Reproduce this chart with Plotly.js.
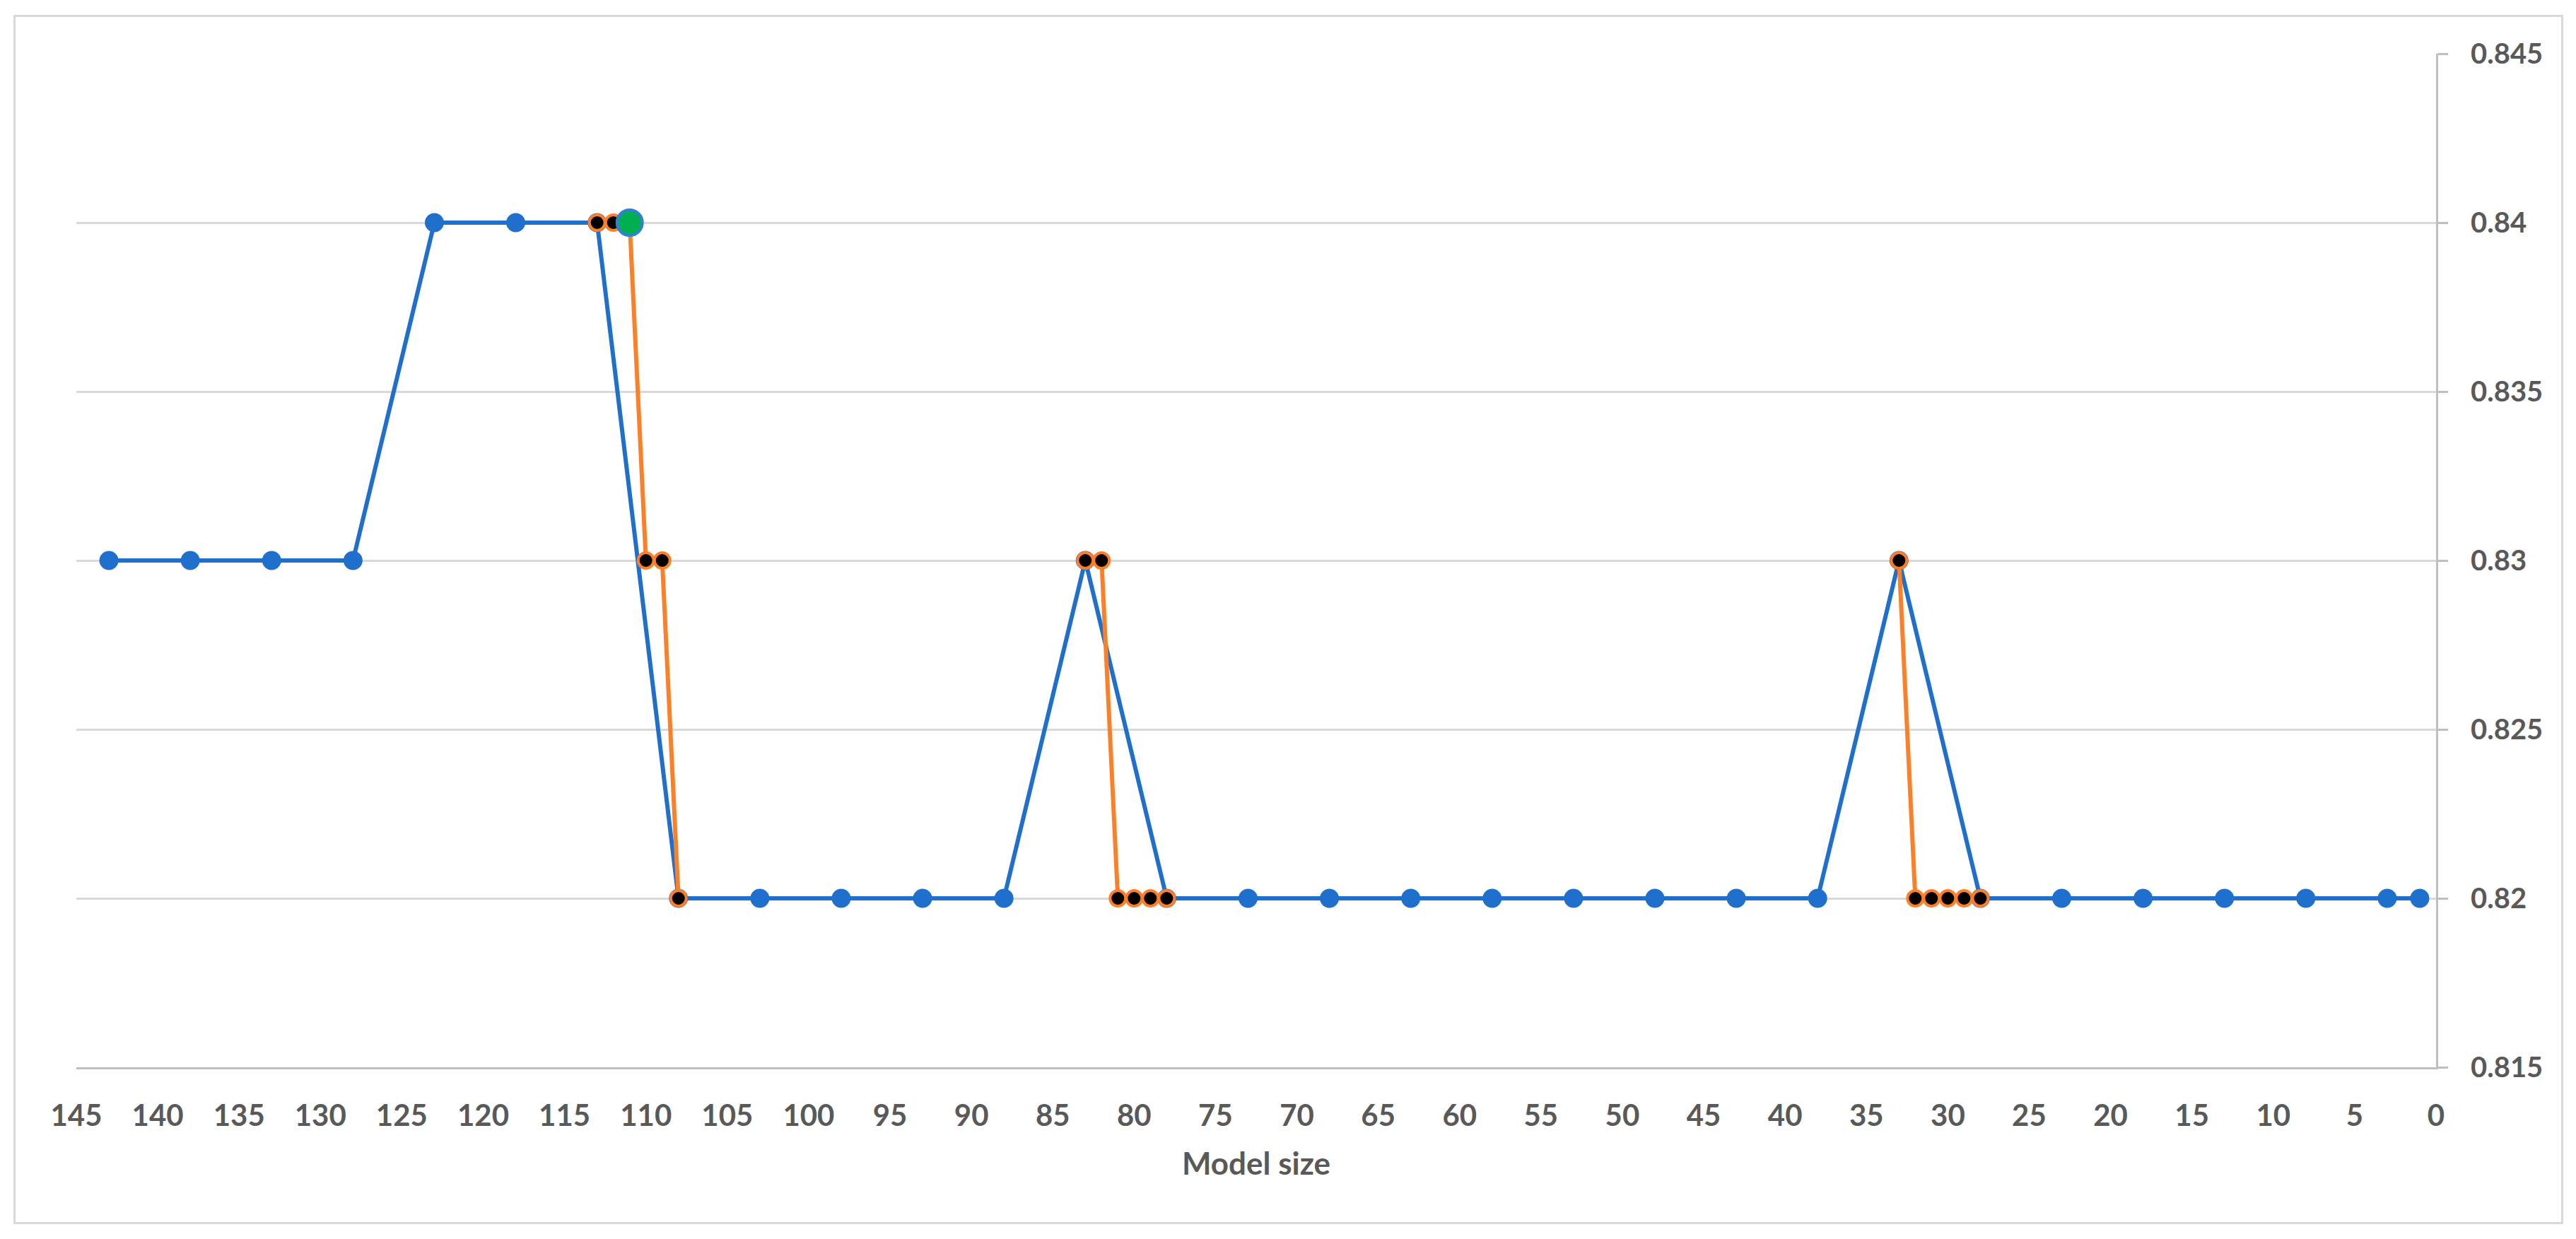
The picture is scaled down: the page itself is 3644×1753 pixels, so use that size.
<!DOCTYPE html>
<html>
<head>
<meta charset="utf-8">
<script src="https://cdn.plot.ly/plotly-3.0.1.min.js"></script>
<style>
  body { margin: 0; background: #fff; }
  #chart { position: absolute; left: 0; top: 0; width: 3644px; height: 1753px; }
  #frame { position: absolute; left: 19px; top: 21px; width: 3607px; height: 1711px;
           border: 3px solid #d9d9d9; box-sizing: border-box; pointer-events: none; }
</style>
</head>
<body>
<div id="chart"></div>
<div id="frame"></div>
<script>
// model size sweep, every 5 units plus the last one
const sizes = [143, 138, 133, 128, 123, 118, 113, 108, 103, 98, 93, 88, 83, 78, 73, 68, 63, 58, 53, 48, 43, 38, 33, 28, 23, 18, 13, 8, 3, 1];
const scores = [0.83, 0.83, 0.83, 0.83, 0.84, 0.84, 0.84, 0.82, 0.82, 0.82, 0.82, 0.82, 0.83, 0.82, 0.82, 0.82, 0.82, 0.82, 0.82, 0.82, 0.82, 0.82, 0.83, 0.82, 0.82, 0.82, 0.82, 0.82, 0.82, 0.82];

// finer steps around the transitions (null = gap between segments)
const fineSizes = [113, 112, 111, 110, 109, 108, null, 83, 82, 81, 80, 79, 78, null, 33, 32, 31, 30, 29, 28];
const fineScores = [0.84, 0.84, 0.84, 0.83, 0.83, 0.82, null, 0.83, 0.83, 0.82, 0.82, 0.82, 0.82, null, 0.83, 0.82, 0.82, 0.82, 0.82, 0.82];

// selected model
const bestSize = [111];
const bestScore = [0.84];

const blue = "#1f6fcc";
const orange = "#ff7f27";
const textGray = "#595959";
const fontFamily = "Lato, 'Open Sans', sans-serif";

const coarse = {
    x: sizes, y: scores,
    mode: "lines+markers", type: "scatter",
    line: { color: blue, width: 6 },
    marker: { size: 27, color: blue }
};

const fine = {
    x: fineSizes, y: fineScores,
    mode: "lines+markers", type: "scatter",
    connectgaps: false,
    line: { color: orange, width: 6 },
    marker: { size: 22, color: "#000", line: { color: orange, width: 4 } }
};

const best = {
    x: bestSize, y: bestScore,
    mode: "markers", type: "scatter",
    marker: { size: 36, color: "#00b050", line: { color: "#2f80d6", width: 4 } }
};

const layout = {
    width: 3644, height: 1753,
    margin: { l: 108, r: 198, t: 76, b: 243 },
    paper_bgcolor: "#fff", plot_bgcolor: "#fff",
    showlegend: false,
    font: { family: fontFamily, color: textGray },
    xaxis: {
        range: [145, 0],
        tick0: 0, dtick: 5,
        showgrid: false, zeroline: false,
        showline: true, linecolor: "#bfbfbf", linewidth: 3,
        ticks: "",
        ticklabelstandoff: 30,
        tickfont: { size: 42, color: textGray, weight: "bold" },
        title: { text: "Model size", standoff: 30, font: { size: 44, color: textGray, weight: "bold" } }
    },
    yaxis: {
        side: "right",
        range: [0.815, 0.845],
        tick0: 0.815, dtick: 0.005,
        showgrid: true, gridcolor: "#d9d9d9", gridwidth: 3,
        zeroline: false,
        showline: true, linecolor: "#bfbfbf", linewidth: 3,
        ticks: "outside", ticklen: 14, tickwidth: 3, tickcolor: "#bfbfbf",
        ticklabelstandoff: 24,
        tickfont: { size: 40, color: textGray, weight: "bold" }
    }
};

Plotly.newPlot("chart", [coarse, fine, best], layout, { staticPlot: true });
</script>
</body>
</html>
